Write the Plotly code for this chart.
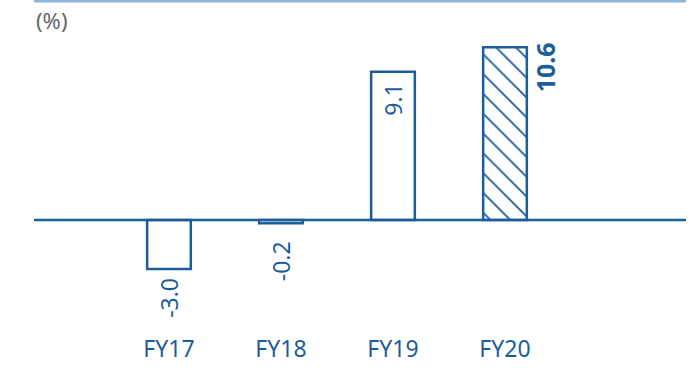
import plotly.graph_objects as go

categories = ["FY17", "FY18", "FY19", "FY20"]
values = [-3.0, -0.2, 9.1, 10.6]
value_labels = ["-3.0", "-0.2", "9.1", "10.6"]
positions = [1, 2, 3, 4]
unit_label = "(%)"

BLUE = "#1c5d9c"
LIGHT = "#8db3d6"
FONT = "Noto Sans"

fig = go.Figure()
fig.add_trace(go.Bar(
    x=positions, y=values, width=0.39,
    marker=dict(
        color="white",
        line=dict(color=BLUE, width=2.5),
        pattern=dict(shape=["", "", "", "\\"], fgcolor=BLUE, bgcolor="white",
                     fgopacity=1, size=14, solidity=0.13),
    ),
    hoverinfo="skip",
))

# value label offsets (pixels)
offsets = [(0, -29, False), (0, -38, False), (0, -28, False), (40, -20, True)]
for p, v, t, (dx, dy, bold) in zip(positions, values, value_labels, offsets):
    fig.add_annotation(
        x=p, y=v, xref="x", yref="y", text=f"<b>{t}</b>" if bold else t,
        textangle=-90, showarrow=False, xanchor="center", yanchor="middle",
        xshift=dx, yshift=dy,
        font=dict(family=FONT, size=25 if bold else 23, color=BLUE),
    )

fig.add_annotation(
    x=0, y=0.942, xref="paper", yref="paper", text=unit_label, showarrow=False,
    xanchor="left", yanchor="middle", font=dict(family=FONT, size=22, color="#666666"),
)

fig.add_shape(type="line", xref="paper", x0=0, x1=1, yref="y", y0=0, y1=0,
              line=dict(color=BLUE, width=2.5))
fig.add_shape(type="line", xref="paper", x0=0, x1=1, yref="paper", y0=1, y1=1,
              line=dict(color=LIGHT, width=3))

fig.update_layout(
    width=700, height=368,
    margin=dict(l=34, r=14, t=1, b=38),
    plot_bgcolor="white", paper_bgcolor="white",
    showlegend=False,
    xaxis=dict(range=[-0.205, 5.616], tickvals=positions, ticktext=categories,
               showgrid=False, zeroline=False, showline=False, ticks="",
               ticklabelstandoff=3,
               tickfont=dict(family=FONT, size=23, color=BLUE)),
    yaxis=dict(range=[-6.75, 13.44], visible=False),
)

fig.write_html("out.html")
